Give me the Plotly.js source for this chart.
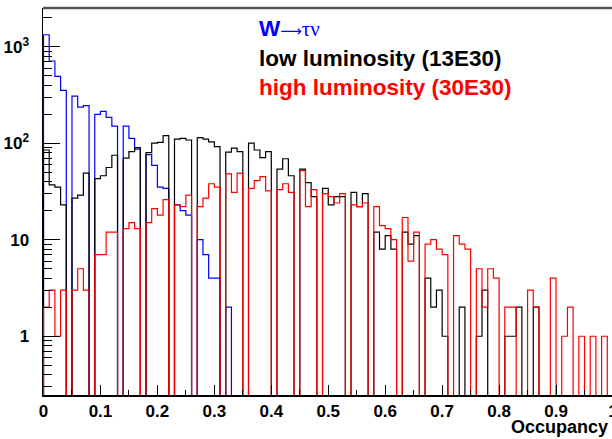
<!DOCTYPE html>
<html>
<head>
<meta charset="utf-8">
<script src="https://cdn.plot.ly/plotly-3.0.1.min.js"></script>
<style>
html,body{margin:0;padding:0;overflow:hidden;background:#fff;}
#plot{width:615px;height:439px;}
</style>
</head>
<body>
<div id="plot"></div>
<script>
// Histogram: 100 bins of width 0.01 on [0,1]
const binWidth = 0.01;
const xTickLabels = ['0','0.1','0.2','0.3','0.4','0.5','0.6','0.7','0.8','0.9','1'];
const yTickLabels = ['1','10','10<sup>2</sup>','10<sup>3</sup>'];

// W -> tau nu (blue)
const wTauNu = [
  1330, 711, 493, 353, 0, 308, 237, 245, 0, 199,
  214, 185, 150, 0, 150, 112, 87, 0, 76, 59,
  35, 34, 0, 23, 20, 18, 0, 10, 7, 4,
  4, 0, 2, 0, 0, 0, 0, 0, 0, 0,
  0, 0, 0, 0, 0, 0, 0, 0, 0, 0,
  0, 0, 0, 0, 0, 0, 0, 0, 0, 0,
  0, 0, 0, 0, 0, 0, 0, 0, 0, 0,
  0, 0, 0, 0, 0, 0, 0, 0, 0, 0,
  0, 0, 0, 0, 0, 0, 0, 0, 0, 0,
  0, 0, 0, 0, 0, 0, 0, 0, 0, 0
];

// low luminosity (13E30) (black)
const lowLumi = [
  85, 37, 35, 23, 0, 27, 29, 49, 0, 43,
  46, 56, 75, 0, 70, 82, 90, 0, 80, 100,
  102, 120, 0, 110, 112, 108, 0, 114, 110, 103,
  92, 0, 81, 89, 82, 0, 100, 85, 71, 82,
  0, 54, 69, 46, 0, 54, 39, 28, 0, 34,
  23, 28, 28, 0, 31, 22, 30, 0, 12, 8,
  11, 8, 0, 12, 9, 11, 0, 4, 2, 3,
  1, 0, 0, 2, 0, 0, 1, 3, 0, 0,
  0, 1, 1, 2, 0, 0, 2, 0, 0, 0,
  0, 0, 0, 0, 0, 0, 0, 0, 0, 0
];

// high luminosity (30E30) (red)
const highLumi = [
  2, 3, 1, 3, 0, 3, 5, 3, 0, 7,
  7, 12, 12, 0, 13, 15, 13, 0, 15, 21,
  18, 26, 0, 23, 22, 29, 0, 22, 27, 38,
  35, 0, 48, 31, 49, 0, 34, 41, 45, 32,
  0, 33, 38, 31, 0, 52, 22, 33, 0, 30,
  28, 24, 30, 0, 23, 22, 24, 0, 22, 14,
  13, 10, 0, 17, 6, 12, 0, 9, 10, 8,
  7, 0, 11, 9, 8, 0, 5, 2, 5, 4,
  0, 2, 2, 0, 0, 3, 2, 0, 0, 4,
  0, 1, 2, 0, 1, 0, 1, 0, 1, 0
];

const FLOOR = 1e-3; // empty bins drawn below the frame bottom (clipped), as ROOT does

function stepTrace(vals, color) {
  const x = [], y = [];
  x.push(0); y.push(FLOOR);
  for (let i = 0; i < vals.length; i++) {
    x.push(i * binWidth);
    y.push(vals[i] > 0 ? vals[i] : FLOOR);
  }
  x.push(vals.length * binWidth);
  y.push(FLOOR);
  return {x: x, y: y, type: 'scatter', mode: 'lines',
          line: {shape: 'hv', color: color, width: 1.2},
          hoverinfo: 'skip'};
}

const yMinor = [];
[0.1, 1, 10, 100, 1000].forEach(d => { for (let k = 2; k <= 9; k++) yMinor.push(k * d); });

const axisFont = {family: 'Liberation Sans, Arial, sans-serif', size: 17, color: 'black', weight: 'bold'};
const legFont = {family: 'Liberation Sans, Arial, sans-serif', size: 22.5, weight: 'bold'};

const data = [
  stepTrace(wTauNu, 'rgb(0,0,255)'),
  stepTrace(lowLumi, 'rgb(0,0,0)'),
  stepTrace(highLumi, 'rgb(255,0,0)')
];

const L = 43, W = 615, R = 1, T = 8, H = 439, B = 44;
const plotW = W - L - R, plotH = H - T - B;
function px2paperX(px) { return (px - L) / plotW; }
function px2paperY(py) { return (H - B - py) / plotH; }

const layout = {
  width: W, height: H,
  margin: {l: L, r: R, t: T, b: B, pad: 0},
  paper_bgcolor: 'white', plot_bgcolor: 'white',
  showlegend: false,
  xaxis: {
    range: [-0.00088, 1.00176],
    tickvals: [0,0.1,0.2,0.3,0.4,0.5,0.6,0.7,0.8,0.9,1],
    ticktext: xTickLabels,
    ticks: 'inside', ticklen: 10, tickwidth: 1, tickcolor: 'black',
    minor: {tickvals: [0.05,0.15,0.25,0.35,0.45,0.55,0.65,0.75,0.85,0.95], ticks: 'inside', ticklen: 5, tickwidth: 1, tickcolor: 'black', showgrid: false},
    showline: true, linecolor: 'black', linewidth: 1.5,
    showgrid: false, zeroline: false,
    ticklabeloverflow: 'allow',
    tickfont: axisFont, ticklabelstandoff: 0
  },
  yaxis: {
    type: 'log',
    range: [-0.609, 3.401],
    tickvals: [1, 10, 100, 1000],
    ticktext: yTickLabels,
    ticks: 'inside', ticklen: 17, tickwidth: 1, tickcolor: 'black',
    minor: {tickvals: yMinor, ticks: 'inside', ticklen: 9, tickwidth: 1, tickcolor: 'black', showgrid: false},
    showline: true, linecolor: 'black', linewidth: 1.5,
    showgrid: false, zeroline: false,
    tickfont: axisFont, ticklabelstandoff: 9
  },
  shapes: [
    {type: 'line', xref: 'paper', yref: 'paper', x0: 0, x1: 1, y0: 1, y1: 1,
     line: {color: 'rgb(85,85,85)', width: 2.5}}
  ],
  annotations: [
    {xref: 'paper', yref: 'paper', x: px2paperX(257), y: px2paperY(28), xanchor: 'left', yanchor: 'middle',
     text: '<b>W</b><span style="font-family:DejaVu Sans;font-size:15px">⟶</span><span style="font-family:Liberation Serif;font-size:21px">τν</span>',
     showarrow: false, font: Object.assign({}, legFont, {color: 'rgb(0,0,255)', weight: 'normal'})},
    {xref: 'paper', yref: 'paper', x: px2paperX(257), y: px2paperY(58), xanchor: 'left', yanchor: 'middle',
     text: 'low luminosity (13E30)', showarrow: false, font: Object.assign({}, legFont, {color: 'black'})},
    {xref: 'paper', yref: 'paper', x: px2paperX(257), y: px2paperY(88), xanchor: 'left', yanchor: 'middle',
     text: 'high luminosity (30E30)', showarrow: false, font: Object.assign({}, legFont, {color: 'rgb(255,0,0)'})},
    {xref: 'paper', yref: 'paper', x: px2paperX(610), y: px2paperY(427), xanchor: 'right', yanchor: 'middle',
     text: 'Occupancy', showarrow: false, font: {family: 'Liberation Sans, Arial, sans-serif', size: 18, color: 'black', weight: 'bold'}}
  ]
};

Plotly.newPlot('plot', data, layout, {staticPlot: true, displayModeBar: false});
</script>
</body>
</html>
